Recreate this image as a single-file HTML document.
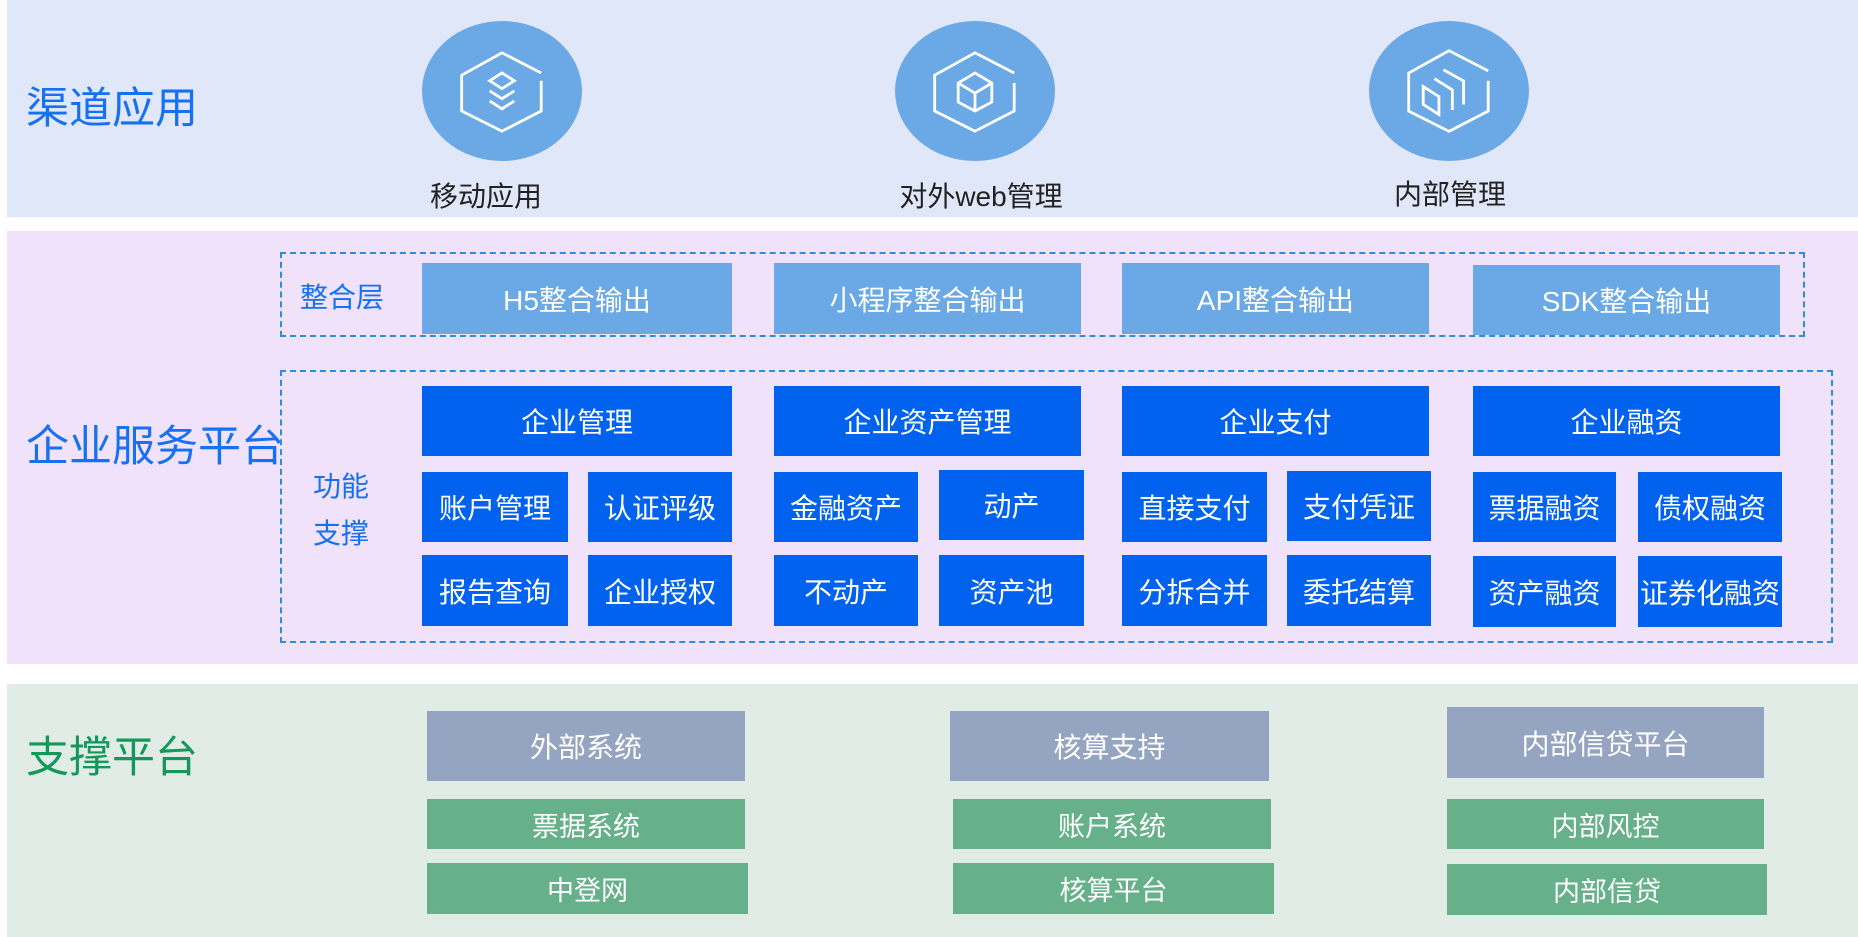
<!DOCTYPE html>
<html><head><meta charset="utf-8"><style>
body{margin:0;width:1858px;height:937px;background:#fff;position:relative;overflow:hidden;font-family:"Liberation Sans","Noto Sans CJK SC",sans-serif;}
div{position:absolute;box-sizing:border-box;}
.b{display:flex;align-items:center;justify-content:center;color:#fff;font-size:28px;white-space:nowrap;}
.l{background:#6aa8e6}.d{background:#0062ef}.g{background:#95a5c1}.gr{background:#66b08a;font-size:27px}
.big{font-size:43px;color:#1670f2;white-space:nowrap}
.cap{font-size:28px;color:#222;white-space:nowrap;transform:translateX(-50%)}
.dash{border:2px dashed #2a8ee0}
</style></head><body>
<div style="left:7px;top:0;width:1851px;height:217px;background:#dfe7f9"></div>
<div style="left:7px;top:231px;width:1851px;height:433px;background:#f0e2fb"></div>
<div style="left:7px;top:684px;width:1851px;height:253px;background:#e2ece7"></div>

<div class="big" style="left:26px;top:74px">渠道应用</div>
<div class="big" style="left:26px;top:412px">企业服务平台</div>
<div class="big" style="left:26px;top:723px;color:#13985a">支撑平台</div>

<svg style="position:absolute;left:0;top:0" width="1858" height="217">
<g fill="#6aa8e6"><ellipse cx="502" cy="91" rx="80" ry="70"/><ellipse cx="975" cy="91" rx="80" ry="70"/><ellipse cx="1449" cy="91" rx="80" ry="70"/></g>
<g fill="none" stroke="#fff" stroke-width="2.5">
<g transform="translate(502 92) scale(1.12) translate(-502 -92)">
<path d="M537 75 L502 57 L466 77 L466 109 L502 127 L537 109 L537 82"/>
<path d="M502 75 L513 82 L502 89 L491 82Z M491 91 L502 98 L513 91 M491 100 L502 107 L513 100"/>
</g>
<g transform="translate(975 92) scale(1.12) translate(-975 -92)">
<path d="M1010 75 L975 57 L939 77 L939 109 L975 127 L1010 109 L1010 84"/>
<path d="M975 75 L990 84 L990 101 L975 109 L960 101 L960 84Z M960 84 L975 93 L990 84 M975 93 L975 109"/>
</g>
<g transform="translate(1449 91) scale(1.12) translate(-1449 -91)">
<path d="M1484 73 L1449 55 L1413 75 L1413 109 L1449 127 L1484 109 L1484 82"/>
<path d="M1426 87 L1440 96 L1440 112 L1426 103Z M1436 80 L1452 90 L1452 108 M1444 72 L1462 82 L1462 103"/>
</g>
</g></svg>
<div class="cap" style="left:486px;top:175px">移动应用</div>
<div class="cap" style="left:981px;top:175px">对外web管理</div>
<div class="cap" style="left:1450px;top:173px">内部管理</div>

<div class="dash" style="left:280px;top:252px;width:1525px;height:85px"></div>
<div style="left:300px;top:276px;font-size:28px;color:#1670f2">整合层</div>
<div class="b l" style="left:422px;top:263px;width:310px;height:71px">H5整合输出</div>
<div class="b l" style="left:774px;top:263px;width:307px;height:71px">小程序整合输出</div>
<div class="b l" style="left:1122px;top:263px;width:307px;height:71px">API整合输出</div>
<div class="b l" style="left:1473px;top:265px;width:307px;height:70px">SDK整合输出</div>

<div class="dash" style="left:280px;top:370px;width:1553px;height:273px"></div>
<div style="left:313px;top:463px;font-size:28px;color:#1670f2;line-height:47px">功能<br>支撑</div>
<div class="b d" style="left:422px;top:386px;width:310px;height:70px">企业管理</div>
<div class="b d" style="left:774px;top:386px;width:307px;height:70px">企业资产管理</div>
<div class="b d" style="left:1122px;top:386px;width:307px;height:70px">企业支付</div>
<div class="b d" style="left:1473px;top:386px;width:307px;height:70px">企业融资</div>

<div class="b d" style="left:422px;top:472px;width:146px;height:70px">账户管理</div>
<div class="b d" style="left:588px;top:472px;width:144px;height:70px">认证评级</div>
<div class="b d" style="left:774px;top:472px;width:144px;height:70px">金融资产</div>
<div class="b d" style="left:939px;top:470px;width:145px;height:70px">动产</div>
<div class="b d" style="left:1122px;top:472px;width:145px;height:70px">直接支付</div>
<div class="b d" style="left:1287px;top:471px;width:144px;height:70px">支付凭证</div>
<div class="b d" style="left:1473px;top:472px;width:143px;height:70px">票据融资</div>
<div class="b d" style="left:1638px;top:472px;width:144px;height:70px">债权融资</div>

<div class="b d" style="left:422px;top:555px;width:146px;height:71px">报告查询</div>
<div class="b d" style="left:588px;top:555px;width:144px;height:71px">企业授权</div>
<div class="b d" style="left:774px;top:555px;width:144px;height:71px">不动产</div>
<div class="b d" style="left:939px;top:555px;width:145px;height:71px">资产池</div>
<div class="b d" style="left:1122px;top:555px;width:145px;height:71px">分拆合并</div>
<div class="b d" style="left:1287px;top:555px;width:144px;height:71px">委托结算</div>
<div class="b d" style="left:1473px;top:556px;width:143px;height:71px">资产融资</div>
<div class="b d" style="left:1638px;top:556px;width:144px;height:71px">证券化融资</div>

<div class="b g" style="left:427px;top:711px;width:318px;height:70px">外部系统</div>
<div class="b g" style="left:950px;top:711px;width:319px;height:70px">核算支持</div>
<div class="b g" style="left:1447px;top:707px;width:317px;height:71px">内部信贷平台</div>
<div class="b gr" style="left:427px;top:799px;width:318px;height:50px">票据系统</div>
<div class="b gr" style="left:953px;top:799px;width:318px;height:50px">账户系统</div>
<div class="b gr" style="left:1447px;top:799px;width:317px;height:50px">内部风控</div>
<div class="b gr" style="left:427px;top:863px;width:321px;height:51px">中登网</div>
<div class="b gr" style="left:953px;top:863px;width:321px;height:51px">核算平台</div>
<div class="b gr" style="left:1447px;top:864px;width:320px;height:51px">内部信贷</div>
</body></html>
